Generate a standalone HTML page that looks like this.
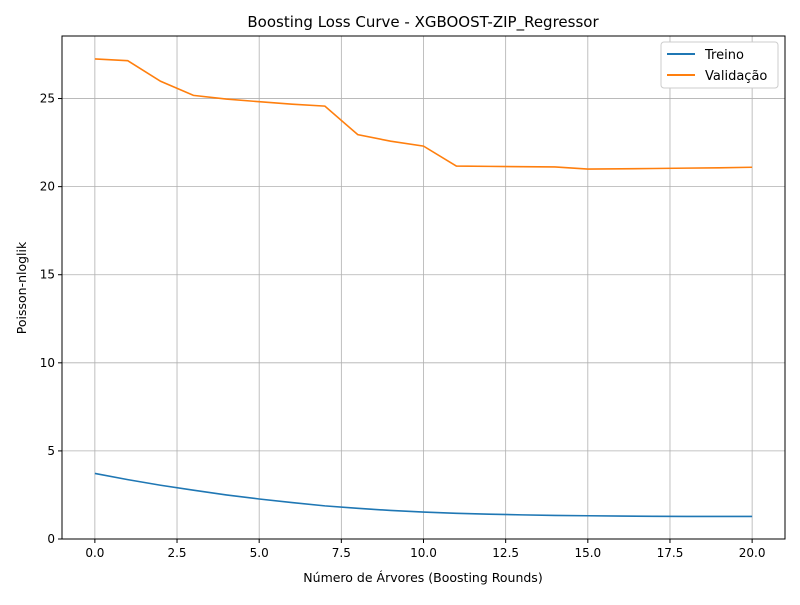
<!DOCTYPE html>
<html><head><meta charset="utf-8"><style>
body{margin:0;background:#fff;font-family:"Liberation Sans","DejaVu Sans",sans-serif}
</style></head><body>
<svg id="c" width="800" height="600" xmlns="http://www.w3.org/2000/svg" style="font-family:'DejaVu Sans','Liberation Sans',sans-serif">
<rect width="800" height="600" fill="#fff"/>
<text x="423" y="27" text-anchor="middle" font-size="15">Boosting Loss Curve - XGBOOST-ZIP_Regressor</text>
<g id="grid"></g><g id="lines"></g><g id="axes"></g>
<text x="423" y="582" text-anchor="middle" font-size="12.5">Número de Árvores (Boosting Rounds)</text>
<text transform="translate(26,288) rotate(-90)" text-anchor="middle" font-size="12.5">Poisson-nloglik</text>
<g>
<rect x="661" y="42" width="117" height="46" fill="#fff" stroke="#ccc" rx="3"/>
<line x1="667" y1="54" x2="695" y2="54" stroke="#1f77b4" stroke-width="2"/>
<text x="705" y="59" font-size="13">Treino</text>
<line x1="667" y1="75" x2="695" y2="75" stroke="#ff7f0e" stroke-width="2"/>
<text x="705" y="80" font-size="13">Validação</text>
</g>
</svg>
<script>
const rounds=[0,1,2,3,4,5,6,7,8,9,10,11,12,13,14,15,16,17,18,19,20];
const trainLoss=[3.72,3.37,3.05,2.77,2.5,2.27,2.07,1.88,1.74,1.62,1.53,1.46,1.41,1.37,1.34,1.32,1.3,1.29,1.28,1.28,1.28];
const valLoss=[27.25,27.15,25.98,25.18,24.97,24.82,24.68,24.57,22.95,22.58,22.3,21.17,21.15,21.13,21.12,21.0,21.01,21.03,21.05,21.07,21.1];
const xTicks=[0,2.5,5,7.5,10,12.5,15,17.5,20];
const xTickLabels=["0.0","2.5","5.0","7.5","10.0","12.5","15.0","17.5","20.0"];
const yTicks=[0,5,10,15,20,25];
const L=62,R=785,T=36,B=539,xMin=-1,xMax=21,yMin=0,yMax=28.55;
const X=v=>L+(v-xMin)/(xMax-xMin)*(R-L);
const Y=v=>B-(v-yMin)/(yMax-yMin)*(B-T);
const NS="http://www.w3.org/2000/svg";
function mk(t,a,p){const e=document.createElementNS(NS,t);for(const k in a)e.setAttribute(k,a[k]);p.appendChild(e);return e;}
const g=document.getElementById('grid'),ax=document.getElementById('axes'),ln=document.getElementById('lines');
xTicks.forEach((v,i)=>{
 const l=mk('line',{x1:X(v),x2:X(v),y1:T,y2:B,stroke:'#b0b0b0','stroke-width':0.8},g);
 
 
 mk('line',{x1:X(v),x2:X(v),y1:B,y2:B+4,stroke:'#000'},ax);
 const t=mk('text',{x:X(v),y:B+18,'text-anchor':'middle','font-size':12},ax);t.textContent=xTickLabels[i];
 
 
});
yTicks.forEach(v=>{
 const l=mk('line',{x1:L,x2:R,y1:Y(v),y2:Y(v),stroke:'#b0b0b0','stroke-width':0.8},g);
 
 
 mk('line',{x1:L-4,x2:L,y1:Y(v),y2:Y(v),stroke:'#000'},ax);
 const t=mk('text',{x:L-7,y:Y(v)+4,'text-anchor':'end','font-size':12},ax);t.textContent=v;
 
 
});
const fr=mk('rect',{x:L,y:T,width:R-L,height:B-T,fill:'none',stroke:'#000','stroke-width':1},ax);


const pt=d=>rounds.map((r,i)=>X(r)+','+Y(d[i])).join(' ');
const p1=mk('polyline',{points:pt(trainLoss),fill:'none',stroke:'#1f77b4','stroke-width':1.6},ln);


const p2=mk('polyline',{points:pt(valLoss),fill:'none',stroke:'#ff7f0e','stroke-width':1.6},ln);


</script>
</body></html>
